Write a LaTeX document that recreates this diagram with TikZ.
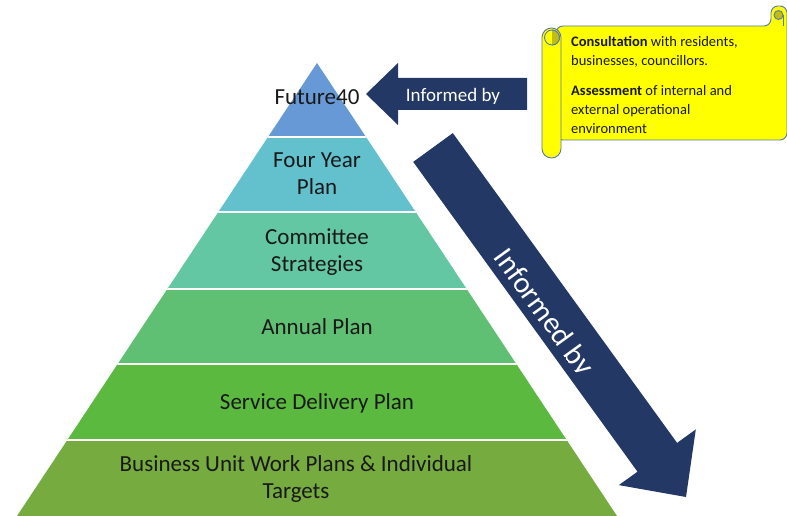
\documentclass[tikz,border=0pt]{standalone}
\usepackage{fontspec}
\setmainfont{Carlito}
\usepackage{xcolor}
\definecolor{pyblue}{RGB}{102,153,213}
\definecolor{pyteal}{RGB}{99,193,206}
\definecolor{pysea}{RGB}{98,199,162}
\definecolor{pymint}{RGB}{95,191,114}
\definecolor{pygreen}{RGB}{92,185,64}
\definecolor{pyolive}{RGB}{118,171,64}
\definecolor{arrnavy}{RGB}{35,56,100}
\definecolor{scrollyellow}{RGB}{255,255,0}
\definecolor{scrollshade}{RGB}{190,190,20}
\definecolor{scrolledge}{RGB}{90,120,175}
\definecolor{txtdark}{RGB}{25,25,25}
\usepackage{tikz}

\begin{document}
\begin{tikzpicture}[x=1pt, y=-1pt,
  band/.style={font=\fontsize{23}{27}\selectfont, align=center, text=txtdark},
  gap/.style={draw=white, line width=2pt},
  blockarr/.style={fill=arrnavy},
  arrtext/.style={text=white},
  scroll/.style={fill=scrollyellow, draw=scrolledge, line width=0.9pt},
  curl/.style={fill=scrollshade, draw=scrolledge, line width=0.9pt}
]
\useasboundingbox (0,0) rectangle (787,516);

% Pyramid levels
\begin{scope}
  \clip (317,63) -- (617,516) -- (17,516) -- cycle;
  \fill[pyblue]   (0,0)   rectangle (787,137);
  \fill[pyteal]   (0,137) rectangle (787,212);
  \fill[pysea]    (0,212) rectangle (787,289);
  \fill[pymint]   (0,289) rectangle (787,364);
  \fill[pygreen]  (0,364) rectangle (787,440);
  \fill[pyolive]  (0,440) rectangle (787,516);
  \foreach \y in {137,212,289,364,440}
    \draw[gap] (0,\y) -- (787,\y);
\end{scope}

% Level labels
\node[band] (fut) at (317,97)  {Future40};
\node[band] (fyp) at (317,174) {Four Year\\Plan};
\node[band] (cst) at (317,252) {Committee\\Strategies};
\node[band] (anp) at (317,327) {Annual Plan};
\node[band] (sdp) at (317,403) {Service Delivery Plan};
\node[band] (buw) at (296,479) {Business Unit Work Plans \& Individual\\Targets};

% Scroll with the consultation notes
\filldraw[scroll, rounded corners=7pt]
  (556,26) -- (771,26) -- (771,6) -- (787,6) -- (787,140) -- (556,140) -- cycle;
\filldraw[curl] (778.5,15) circle (4.5);
\draw[draw=scrolledge, line width=0.9pt] (783,15) -- (783,26);
\filldraw[scroll, rounded corners=9.4pt] (542,28) rectangle (561,158);
\filldraw[scroll] (552,37.5) circle (7.5);
\begin{scope}
  \clip (552,29) rectangle (561,46);
  \filldraw[curl] (552,37.5) circle (7.5);
\end{scope}
\node[anchor=north west, align=left, inner sep=0pt, text=txtdark,
      font=\fontsize{14.5}{19}\selectfont] (notes) at (571,36)
  {\textbf{Consultation} with residents,\\
   businesses, councillors.\\[11pt]
   \textbf{Assessment} of internal and\\
   external operational\\
   environment};

% Arrow from the notes back to Future40
\fill[blockarr] (527,78) -- (398,78) -- (398,63) -- (366,94)
  -- (398,125) -- (398,110) -- (527,110) -- cycle;
\node[arrtext, font=\fontsize{19}{22}\selectfont] (inftop) at (453,96.5) {Informed by};

% Arrow running down the side of the pyramid
\fill[blockarr] (413.2,161.9) -- (452.8,133.1) -- (677.1,442.9) -- (695.8,429.4)
  -- (686,497) -- (618.8,485.1) -- (637.5,471.7) -- cycle;
\begin{scope}[shift={(543,313)}, rotate=-54.1]
  \clip (-120,-30) rectangle (120,8.3);
  \node[arrtext, font=\fontsize{30}{34}\selectfont, rotate=-54.1] (infside) at (0,0) {Informed by};
\end{scope}
\end{tikzpicture}
\end{document}
